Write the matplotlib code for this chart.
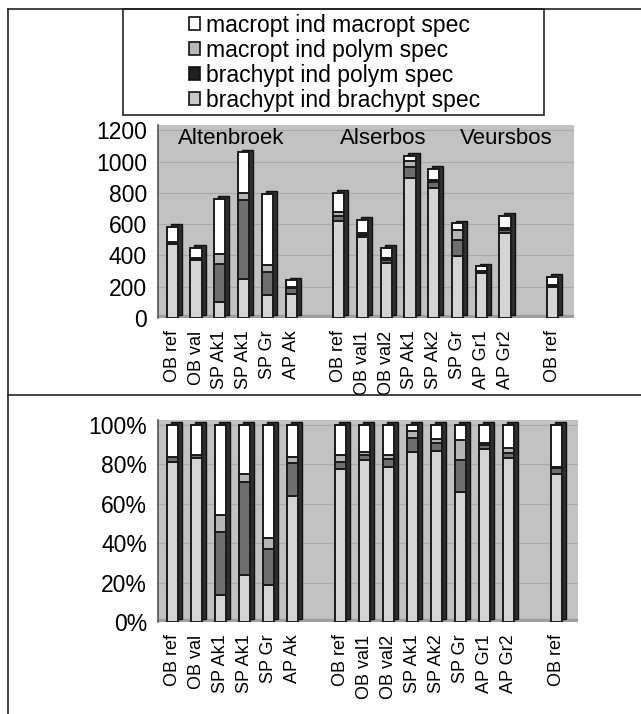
import matplotlib
matplotlib.use("Agg")
import matplotlib.pyplot as plt
import numpy as np
from matplotlib.patches import Patch, Rectangle
from matplotlib.lines import Line2D

plt.rcParams['font.family'] = ['Liberation Sans', 'DejaVu Sans']

# ---------------- data ----------------
categories = ["OB ref", "OB val", "SP Ak1", "SP Ak1", "SP Gr", "AP Ak",
              "OB ref", "OB val1", "OB val2", "SP Ak1", "SP Ak2", "SP Gr", "AP Gr1", "AP Gr2",
              "OB ref"]
groups = ["Altenbroek", "Alserbos", "Veursbos"]
group_sizes = [6, 8, 1]

series_names = ["brachypt ind brachypt spec", "brachypt ind polym spec",
                "macropt ind polym spec", "macropt ind macropt spec"]
brachypt_brachypt = [474, 374, 103, 251, 148, 154, 620, 517, 354, 895, 831, 399, 290, 546, 199]
brachypt_polym    = [15,   8,  243, 502, 148,  40,  30,  16,  19,  70,  38,  99,   7,  16,   8]
macropt_polym     = [0,    0,   65,  45,  41,   7,  27,   9,   8,  40,  16,  62,   3,  16,   1]
macropt_macropt   = [96,  68,  349, 262, 458,  39, 123,  88,  69,  30,  70,  45,  30,  77,  57]

y_ticks_abs = [0, 200, 400, 600, 800, 1000, 1200]
y_ticks_pct = [0, 20, 40, 60, 80, 100]

# ---------------- styling ----------------
colors = ["#d4d4d4", "#6e6e6e", "#b4b4b4", "#ffffff"]
legend_colors = ["#c8c8c8", "#202020", "#b8b8b8", "#ffffff"]
wall = "#c2c2c2"
side = "#2e2e2e"
W, H = 641, 714
fig = plt.figure(figsize=(W / 100, H / 100), dpi=100)


def px_axes(x0, y0, x1, y1):
    return fig.add_axes([x0 / W, 1 - y1 / H, (x1 - x0) / W, (y1 - y0) / H])


# slot positions: a blank slot between groups
pos = []
start = 0
for n in group_sizes:
    pos.extend(range(start, start + n))
    start += n + 1
pos = np.array(pos, dtype=float)

data = np.array([brachypt_brachypt, brachypt_polym, macropt_polym, macropt_macropt], dtype=float)
totals = data.sum(axis=0)
pct = data / totals * 100

bw = 0.47
dx = 0.17


def draw(ax, vals, ymax, yticks, fmt, dy):
    ax.set_facecolor(wall)
    ax.set_xlim(-0.6, 16.9)
    ax.set_ylim(0, ymax)
    for t in yticks[1:]:
        ax.axhline(t, color="#a9a9a9", lw=0.8, zorder=0)
    # floor
    ax.axhspan(0, dy * 0.9, color="#9e9e9e", zorder=0.5)
    tot = vals.sum(axis=0)
    # 3D side / top face
    ax.bar(pos + dx, tot, bw, bottom=dy, color=side, edgecolor="#111111", lw=1.0, zorder=1)
    bottom = np.zeros(len(pos))
    for k in range(4):
        ax.bar(pos, vals[k], bw, bottom=bottom, color=colors[k], edgecolor="#1a1a1a",
               lw=1.4, zorder=2)
        bottom += vals[k]
    ax.set_yticks(yticks)
    ax.set_yticklabels([fmt(t) for t in yticks], fontsize=16.5)
    ax.set_xticks(pos)
    ax.set_xticklabels(categories, rotation=90, fontsize=13.0)
    ax.tick_params(axis="both", length=0)
    ax.tick_params(axis="x", pad=9)
    ax.tick_params(axis="y", pad=8)
    for s in ["top", "right", "bottom"]:
        ax.spines[s].set_visible(False)
    ax.spines["left"].set_color("#555555")
    ax.spines["left"].set_linewidth(1.2)


ax1 = px_axes(158, 125, 574, 318)
draw(ax1, data, 1235, y_ticks_abs, lambda t: f"{t}", 18)
ax1.text(0.22, 1150, groups[0], fontsize=16, ha="left", va="center")
ax1.text(7.05, 1150, groups[1], fontsize=16, ha="left", va="center")
ax1.text(12.1, 1150, groups[2], fontsize=16, ha="left", va="center")

ax2 = px_axes(158, 420, 578, 622)
draw(ax2, pct, 102.5, y_ticks_pct, lambda t: f"{t}%", 1.5)

# ---------------- legend ----------------
order = [3, 2, 1, 0]
handles = [Patch(facecolor=legend_colors[k], edgecolor="#111111", lw=1.2) for k in order]
labels = [series_names[k] for k in order]
fig.legend(handles, labels, loc="upper left", bbox_to_anchor=(189 / W, 1 - 14 / H),
           frameon=False, fontsize=16.5, handlelength=0.5, handleheight=0.5,
           handletextpad=0.25, labelspacing=0.08, borderpad=0, borderaxespad=0)
fig.add_artist(Rectangle((123 / W, 1 - 115 / H), (544 - 123) / W, (115 - 9) / H,
                         transform=fig.transFigure, fill=False, edgecolor="#222222", lw=1.2))

# outer frame lines
fig.add_artist(Line2D([8 / W, 1], [1 - 9 / H, 1 - 9 / H], transform=fig.transFigure,
                      color="#222222", lw=1.2))
fig.add_artist(Line2D([8 / W, 8 / W], [1 - 9 / H, 0], transform=fig.transFigure,
                      color="#222222", lw=1.2))
fig.add_artist(Line2D([8 / W, 1], [1 - 395 / H, 1 - 395 / H], transform=fig.transFigure,
                      color="#222222", lw=1.2))

fig.savefig("out.png", dpi=100, facecolor="white")
